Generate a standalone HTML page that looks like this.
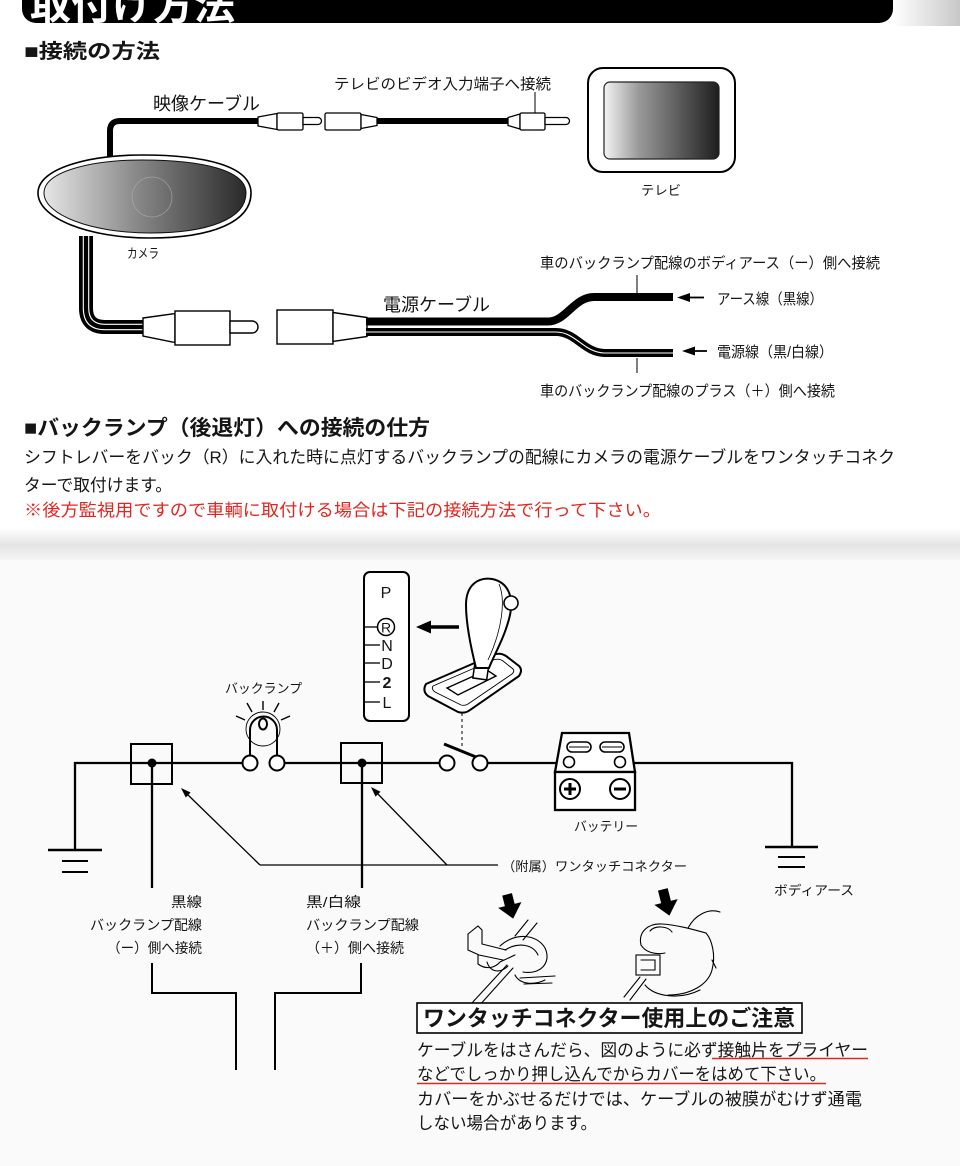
<!DOCTYPE html>
<html lang="ja">
<head>
<meta charset="utf-8">
<style>
  html,body{margin:0;padding:0;background:#fff;}
  svg{display:block;}
  text{font-family:"Liberation Sans","Noto Sans CJK JP",sans-serif;fill:#151515;}
  .b{font-weight:bold;}
</style>
</head>
<body>
<svg width="960" height="1166" viewBox="0 0 960 1166" xmlns="http://www.w3.org/2000/svg">
  <defs>
    <linearGradient id="camg" x1="0" y1="0" x2="1" y2="0">
      <stop offset="0" stop-color="#e6e6e6"/>
      <stop offset="0.45" stop-color="#8a8a8a"/>
      <stop offset="1" stop-color="#2a2a2a"/>
    </linearGradient>
    <linearGradient id="tvg" x1="0" y1="0" x2="1" y2="0">
      <stop offset="0" stop-color="#f4f4f4"/>
      <stop offset="0.3" stop-color="#9a9a9a"/>
      <stop offset="1" stop-color="#1e1e1e"/>
    </linearGradient>
    <linearGradient id="band" x1="0" y1="0" x2="0" y2="1">
      <stop offset="0" stop-color="#ffffff"/>
      <stop offset="0.5" stop-color="#e4e4e4"/>
      <stop offset="1" stop-color="#f7f7f7"/>
    </linearGradient>
    <linearGradient id="corner" x1="0" y1="0" x2="1" y2="0">
      <stop offset="0" stop-color="#ffffff"/>
      <stop offset="1" stop-color="#c8c8c8"/>
    </linearGradient>
  </defs>

  <!-- backgrounds -->
  <rect x="0" y="0" width="960" height="1166" fill="#ffffff"/>
  <rect x="893" y="0" width="67" height="26" fill="url(#corner)"/>
  <rect x="0" y="528" width="960" height="34" fill="url(#band)"/>
  <rect x="0" y="560" width="960" height="606" fill="#fafafa"/>

  <!-- header -->
  <rect x="22" y="-20" width="871" height="43" rx="14" fill="#000"/>
  <text x="30" y="19" font-size="40" textLength="205" lengthAdjust="spacingAndGlyphs" style="fill:#fff" class="b">取付け方法</text>

  <text x="24" y="58" font-size="20" textLength="136" lengthAdjust="spacingAndGlyphs" class="b">■接続の方法</text>

  <!-- video cable -->
  <text x="153" y="110" font-size="18" textLength="107" lengthAdjust="spacingAndGlyphs">映像ケーブル</text>
  <path d="M110,160 L110,131 Q110,121 120,121 L260,121" fill="none" stroke="#000" stroke-width="6"/>
  <!-- male plug 1 -->
  <polygon points="258,117 277,113.5 277,129.5 258,126" fill="#fff" stroke="#000" stroke-width="1.3"/>
  <rect x="277" y="113" width="26" height="17" rx="1.5" fill="#fff" stroke="#000" stroke-width="1.3"/>
  <path d="M303,117.5 L318,117.5 A3.5,3.5 0 0 1 318,124.5 L303,124.5 Z" fill="#fff" stroke="#000" stroke-width="1.3"/>
  <!-- female 1 -->
  <rect x="325" y="113" width="36" height="17" rx="1.5" fill="#fff" stroke="#000" stroke-width="1.3"/>
  <polygon points="361,114.5 377,117.5 377,125.5 361,128.5" fill="#fff" stroke="#000" stroke-width="1.3"/>
  <path d="M377,121 L508,121" stroke="#000" stroke-width="6"/>
  <!-- plug near TV -->
  <polygon points="508,117.5 520,114 520,129 508,125.5" fill="#fff" stroke="#000" stroke-width="1.3"/>
  <rect x="520" y="113" width="25" height="17" rx="1.5" fill="#fff" stroke="#000" stroke-width="1.3"/>
  <path d="M545,117.5 L566,117.5 A3.5,3.5 0 0 1 566,124.5 L545,124.5 Z" fill="#fff" stroke="#000" stroke-width="1.3"/>
  <text x="334" y="89" font-size="15" textLength="217" lengthAdjust="spacingAndGlyphs">テレビのビデオ入力端子へ接続</text>
  <line x1="535" y1="92" x2="535" y2="113" stroke="#000" stroke-width="1"/>

  <!-- TV -->
  <rect x="588" y="68" width="147" height="104" rx="15" fill="#fff" stroke="#000" stroke-width="2"/>
  <rect x="604" y="82" width="115" height="77" rx="6" fill="url(#tvg)" stroke="#222" stroke-width="1.2"/>
  <text x="641" y="195" font-size="13" textLength="40" lengthAdjust="spacingAndGlyphs">テレビ</text>

  <!-- power cable from camera -->
  <path d="M86,236 L86,308 Q86,327 105,327 L146,327" fill="none" stroke="#000" stroke-width="14"/>
  <path d="M83.3,236 L83.3,308 Q83.3,329.7 105,329.7 L146,329.7" fill="none" stroke="#fff" stroke-width="1.1"/>
  <path d="M88.7,236 L88.7,308 Q88.7,324.3 105,324.3 L146,324.3" fill="none" stroke="#fff" stroke-width="1.1"/>

  <!-- camera -->
  <path d="M38,193 C38,168 90,155 142,155 C205,155 251,166 251,193 C251,222 212,238 150,238 C88,238 38,218 38,193 Z" fill="#fff" stroke="#000" stroke-width="1.6"/>
  <path d="M44,193 C44,171 93,160 142,160 C202,160 246,170 246,193 C246,219 208,233 150,233 C92,233 44,215 44,193 Z" fill="url(#camg)" stroke="#111" stroke-width="1"/>
  <circle cx="152" cy="197" r="20" fill="none" stroke="#b0b0b0" stroke-width="0.8" opacity="0.7"/>
  <text x="127" y="258" font-size="13" textLength="32" lengthAdjust="spacingAndGlyphs">カメラ</text>

  <!-- power male connector -->
  <polygon points="143,318 175,313.5 175,342.5 143,336" fill="#fff" stroke="#000" stroke-width="1.4"/>
  <rect x="175" y="311" width="55" height="34" fill="#fff" stroke="#000" stroke-width="1.4"/>
  <path d="M230,321 L252,321 A6,6 0 0 1 252,333 L230,333 Z" fill="#fff" stroke="#000" stroke-width="1.4"/>
  <!-- power female connector -->
  <rect x="277" y="310" width="56" height="34" fill="#fff" stroke="#000" stroke-width="1.4"/>
  <polygon points="333,312.5 367,317.5 367,336.5 333,341.5" fill="#fff" stroke="#000" stroke-width="1.4"/>
  <!-- split wires -->
  <path d="M366,321.5 L548,321.5 C566,321.5 574,297 594,297 L673,297" fill="none" stroke="#000" stroke-width="8"/>
  <path d="M366,332 L556,332 C576,332 584,353 605,353 L673,353" fill="none" stroke="#000" stroke-width="8"/>
  <path d="M366,332 L556,332 C576,332 584,353 605,353 L673,353" fill="none" stroke="#fff" stroke-width="1.1"/>
  <text x="383" y="311" font-size="18" textLength="107" lengthAdjust="spacingAndGlyphs">電源ケーブル</text>

  <!-- labels right -->
  <text x="540" y="268" font-size="15" textLength="340" lengthAdjust="spacingAndGlyphs">車のバックランプ配線のボディアース（ー）側へ接続</text>
  <line x1="637" y1="275" x2="637" y2="293" stroke="#000" stroke-width="1"/>
  <line x1="688" y1="297.5" x2="704" y2="297.5" stroke="#000" stroke-width="1.8"/>
  <polygon points="677,297.5 690,293 690,302" fill="#000"/>
  <text x="717" y="304" font-size="15" textLength="106" lengthAdjust="spacingAndGlyphs">アース線（黒線）</text>
  <line x1="693" y1="351" x2="707" y2="351" stroke="#000" stroke-width="1.8"/>
  <polygon points="682,351 695,346.5 695,355.5" fill="#000"/>
  <text x="717" y="357" font-size="15" textLength="116" lengthAdjust="spacingAndGlyphs">電源線（黒/白線）</text>
  <line x1="637" y1="358" x2="637" y2="373" stroke="#000" stroke-width="1"/>
  <text x="540" y="396" font-size="15" textLength="295" lengthAdjust="spacingAndGlyphs">車のバックランプ配線のプラス（＋）側へ接続</text>

  <!-- section 2 -->
  <text x="24" y="435" font-size="21" textLength="406" lengthAdjust="spacingAndGlyphs" class="b">■バックランプ（後退灯）への接続の仕方</text>
  <text x="24" y="463" font-size="17" textLength="871" lengthAdjust="spacingAndGlyphs">シフトレバーをバック（R）に入れた時に点灯するバックランプの配線にカメラの電源ケーブルをワンタッチコネク</text>
  <text x="24" y="491" font-size="17" textLength="148" lengthAdjust="spacingAndGlyphs">ターで取付けます。</text>
  <text x="24" y="516" font-size="17" textLength="637" lengthAdjust="spacingAndGlyphs" style="fill:#e3261f">※後方監視用ですので車輌に取付ける場合は下記の接続方法で行って下さい。</text>

  <!-- ===== lower circuit ===== -->
  <!-- gear indicator -->
  <rect x="364" y="572" width="45" height="149" rx="6" fill="#fff" stroke="#000" stroke-width="2"/>
  <text x="386" y="598" font-size="16" text-anchor="middle" style="font-family:'Liberation Sans',sans-serif">P</text>
  <circle cx="386" cy="627" r="8.5" fill="none" stroke="#000" stroke-width="1.5"/>
  <text x="386" y="632.5" font-size="14" text-anchor="middle" style="font-family:'Liberation Sans',sans-serif">R</text>
  <text x="387" y="651" font-size="16" text-anchor="middle" style="font-family:'Liberation Sans',sans-serif">N</text>
  <text x="387" y="669" font-size="16" text-anchor="middle" style="font-family:'Liberation Sans',sans-serif">D</text>
  <text x="387" y="688" font-size="16" text-anchor="middle" style="font-family:'Liberation Sans',sans-serif" class="b">2</text>
  <text x="387" y="708" font-size="16" text-anchor="middle" style="font-family:'Liberation Sans',sans-serif">L</text>
  <g stroke="#000" stroke-width="1.3">
    <line x1="364" y1="627" x2="377" y2="627"/>
    <line x1="364" y1="645" x2="380" y2="645"/>
    <line x1="364" y1="663" x2="380" y2="663"/>
    <line x1="364" y1="682" x2="380" y2="682"/>
    <line x1="364" y1="702" x2="380" y2="702"/>
  </g>
  <!-- arrow to R -->
  <line x1="428" y1="627" x2="459" y2="627" stroke="#000" stroke-width="3.5"/>
  <polygon points="416,627 431,620.5 431,633.5" fill="#000"/>

  <!-- shifter -->
  <path d="M426,684 L493,655 Q500,652 506,656 L519,666 Q523,670 519,676 L470,710 Q465,714 458,712 L428,696 Q422,691 426,684 Z" fill="#fff" stroke="#000" stroke-width="2"/>
  <path d="M433,686 L493,660 Q499,658 503,661 L513,669 Q515,671 512,674 L468,704 Q465,706 461,705 L435,692 Q431,689 433,686 Z" fill="none" stroke="#000" stroke-width="0.9"/>
  <path d="M447,688 L487,670 L496,676 L458,695 Z" fill="#fff" stroke="#000" stroke-width="1.4"/>
  <rect x="474" y="662" width="14" height="17" fill="#fff" stroke="#000" stroke-width="1.5" transform="rotate(8 481 670)"/>
  <path d="M476,668 C471,648 466,625 466,605 C466,585 478,577 492,579 C508,582 514,597 510,615 C505,637 494,655 489,668 Z" fill="#fff" stroke="#000" stroke-width="2"/>
  <path d="M499,584 C506,600 502,630 488,660" fill="none" stroke="#000" stroke-width="0.8"/>
  <circle cx="511" cy="603" r="7" fill="#fff" stroke="#000" stroke-width="1.6"/>
  <line x1="462" y1="713" x2="462" y2="748" stroke="#000" stroke-width="1" stroke-dasharray="3,3"/>

  <!-- bulb -->
  <text x="225" y="693" font-size="13" textLength="77" lengthAdjust="spacingAndGlyphs">バックランプ</text>
  <g stroke="#000" stroke-width="1.4">
    <line x1="263" y1="701" x2="263" y2="710"/>
    <line x1="247" y1="703" x2="252" y2="712"/>
    <line x1="279" y1="703" x2="274" y2="712"/>
    <line x1="236" y1="716" x2="245" y2="720"/>
    <line x1="290" y1="716" x2="281" y2="720"/>
  </g>
  <circle cx="263" cy="729" r="17" fill="none" stroke="#000" stroke-width="0.9"/>
  <path d="M250,756 L250,730 A13.5,13.5 0 0 1 277,730 L277,756" fill="none" stroke="#000" stroke-width="2"/>
  <ellipse cx="263" cy="724" rx="4" ry="5.5" fill="none" stroke="#000" stroke-width="2"/>

  <!-- main wire -->
  <g fill="none" stroke="#000" stroke-width="2.3">
    <path d="M75,850 L75,763 L242.5,763"/>
    <line x1="284.5" y1="763" x2="439.5" y2="763"/>
    <line x1="487.5" y1="763" x2="563.5" y2="763"/>
    <path d="M625.5,763 L792,763 L792,847"/>
    <line x1="152" y1="763" x2="152" y2="888"/>
    <line x1="362" y1="763" x2="362" y2="888"/>
  </g>
  <!-- bulb terminals -->
  <circle cx="250" cy="763" r="7.5" fill="#fff" stroke="#000" stroke-width="2"/>
  <circle cx="277" cy="763" r="7.5" fill="#fff" stroke="#000" stroke-width="2"/>
  <!-- junction boxes -->
  <rect x="131" y="744" width="41" height="40" fill="none" stroke="#000" stroke-width="2"/>
  <circle cx="152" cy="763" r="4.5" fill="#000"/>
  <rect x="341" y="743" width="41" height="40" fill="none" stroke="#000" stroke-width="2"/>
  <circle cx="362" cy="763" r="4.5" fill="#000"/>
  <!-- switch -->
  <circle cx="447" cy="763" r="7.5" fill="#fff" stroke="#000" stroke-width="2"/>
  <circle cx="480" cy="763" r="7.5" fill="#fff" stroke="#000" stroke-width="2"/>
  <line x1="444" y1="744" x2="476" y2="757" stroke="#000" stroke-width="3"/>

  <!-- battery -->
  <path d="M562,733 L629,733 L635,772 L555,772 Z" fill="#fff" stroke="#000" stroke-width="2.3"/>
  <rect x="555" y="772" width="80" height="38" fill="#fff" stroke="#000" stroke-width="2.3"/>
  <rect x="567" y="742" width="24" height="10" rx="5" fill="#fff" stroke="#000" stroke-width="1.6"/>
  <line x1="569" y1="747" x2="589" y2="747" stroke="#000" stroke-width="1"/>
  <rect x="600" y="742" width="24" height="10" rx="5" fill="#fff" stroke="#000" stroke-width="1.6"/>
  <line x1="602" y1="747" x2="622" y2="747" stroke="#000" stroke-width="1"/>
  <circle cx="569" cy="762" r="5.5" fill="#fff" stroke="#000" stroke-width="1.6"/>
  <circle cx="620" cy="762" r="5.5" fill="#fff" stroke="#000" stroke-width="1.6"/>
  <circle cx="570" cy="789" r="10" fill="#fff" stroke="#000" stroke-width="2"/>
  <line x1="564" y1="789" x2="576" y2="789" stroke="#000" stroke-width="3"/>
  <line x1="570" y1="783" x2="570" y2="795" stroke="#000" stroke-width="3"/>
  <circle cx="620" cy="789" r="10" fill="#fff" stroke="#000" stroke-width="2"/>
  <line x1="614" y1="789" x2="626" y2="789" stroke="#000" stroke-width="3"/>
  <text x="574" y="831" font-size="13" textLength="64" lengthAdjust="spacingAndGlyphs">バッテリー</text>

  <!-- grounds -->
  <g stroke="#000">
    <line x1="48" y1="850" x2="102" y2="850" stroke-width="2.5"/>
    <line x1="62" y1="861" x2="88" y2="861" stroke-width="2"/>
    <line x1="62" y1="872" x2="88" y2="872" stroke-width="2"/>
    <line x1="765" y1="847" x2="818" y2="847" stroke-width="2.5"/>
    <line x1="778" y1="857" x2="805" y2="857" stroke-width="2"/>
    <line x1="778" y1="867" x2="805" y2="867" stroke-width="2"/>
  </g>
  <text x="774" y="895" font-size="13" textLength="80" lengthAdjust="spacingAndGlyphs">ボディアース</text>

  <!-- connector pointer lines -->
  <g stroke="#000" stroke-width="1.3" fill="none">
    <line x1="260" y1="865" x2="498" y2="865"/>
    <line x1="260" y1="865" x2="186" y2="793"/>
    <line x1="447" y1="865" x2="375" y2="791"/>
  </g>
  <polygon points="181,788 190.6,792.5 185.8,797.5" fill="#000"/>
  <polygon points="371,787 380.5,791.7 375.5,796.6" fill="#000"/>
  <text x="502" y="871" font-size="13" textLength="185" lengthAdjust="spacingAndGlyphs">（附属）ワンタッチコネクター</text>

  <!-- wire labels -->
  <text x="202" y="907" font-size="14" text-anchor="end" textLength="31" lengthAdjust="spacingAndGlyphs">黒線</text>
  <text x="202" y="930" font-size="14" text-anchor="end" textLength="112" lengthAdjust="spacingAndGlyphs">バックランプ配線</text>
  <text x="202" y="953" font-size="14" text-anchor="end" textLength="95" lengthAdjust="spacingAndGlyphs">（ー）側へ接続</text>
  <text x="306" y="907" font-size="14" textLength="55" lengthAdjust="spacingAndGlyphs">黒/白線</text>
  <text x="306" y="930" font-size="14" textLength="113" lengthAdjust="spacingAndGlyphs">バックランプ配線</text>
  <text x="306" y="953" font-size="14" textLength="98" lengthAdjust="spacingAndGlyphs">（＋）側へ接続</text>
  <g fill="none" stroke="#000" stroke-width="2">
    <path d="M152,963 L152,993 L236,993 L236,1070"/>
    <path d="M361,963 L361,993 L275,993 L275,1070"/>
  </g>

  <!-- connector sketches -->
  <g transform="rotate(-14 510 906)">
    <rect x="505" y="894" width="10" height="13" fill="#000"/>
    <polygon points="498,905 522,905 510,919" fill="#000"/>
  </g>
  <g transform="rotate(-14 666 902)">
    <rect x="661" y="889" width="10" height="14" fill="#000"/>
    <polygon points="654,902 678,902 666,916" fill="#000"/>
  </g>
  <g fill="none" stroke="#000" stroke-width="1.1" stroke-linecap="round">
    <!-- left clip -->
    <path d="M468,934 L478,926 L482,930 L482,944 L506,950"/>
    <path d="M468,934 L468,950 L479,955 L503,960"/>
    <path d="M478,955 L478,964 C486,970 495,968 500,962 L515,955"/>
    <path d="M487,962 C490,972 500,974 508,966"/>
    <path d="M471,1004 L507,965"/>
    <path d="M478,1007 L513,968"/>
    <path d="M500,946 C515,932 537,934 545,948 C552,963 540,975 523,972"/>
    <path d="M505,950 C518,942 533,944 538,955"/>
    <path d="M515,936 L528,920"/>
    <path d="M523,940 L537,923"/>
    <path d="M520,978 L555,976"/>
    <path d="M524,984 L552,983"/>
    <path d="M515,975 C520,985 535,985 545,980"/>
    <!-- right finger -->
    <path d="M641,945 C638,932 648,923 662,924 C678,925 695,930 706,933"/>
    <path d="M641,945 C645,952 655,955 665,953"/>
    <path d="M650,931 C655,925 668,926 672,932"/>
    <path d="M706,933 C712,940 716,955 712,970 C708,985 690,995 668,995"/>
    <path d="M688,928 C695,915 708,908 720,912"/>
    <path d="M712,960 L716,968"/>
    <rect x="636" y="955" width="24" height="20"/>
    <path d="M641,960 L655,960 L655,970 L641,970"/>
    <path d="M624,997 L640,977"/>
    <path d="M630,1000 L646,979"/>
    <path d="M645,985 C655,997 680,1000 700,990"/>
  </g>

  <!-- notice box -->
  <rect x="417" y="1003" width="385" height="30" fill="#fff" stroke="#000" stroke-width="1.6"/>
  <text x="423" y="1026" font-size="22" textLength="372" lengthAdjust="spacingAndGlyphs" class="b">ワンタッチコネクター使用上のご注意</text>
  <text x="417" y="1056" font-size="17" textLength="451" lengthAdjust="spacingAndGlyphs">ケーブルをはさんだら、図のように必ず接触片をプライヤー</text>
  <line x1="712" y1="1058.5" x2="868" y2="1058.5" stroke="#e3261f" stroke-width="1.5"/>
  <text x="417" y="1080" font-size="17" textLength="409" lengthAdjust="spacingAndGlyphs">などでしっかり押し込んでからカバーをはめて下さい。</text>
  <line x1="417" y1="1083.5" x2="826" y2="1083.5" stroke="#e3261f" stroke-width="1.5"/>
  <text x="417" y="1105" font-size="17" textLength="445" lengthAdjust="spacingAndGlyphs">カバーをかぶせるだけでは、ケーブルの被膜がむけず通電</text>
  <text x="417" y="1129" font-size="17" textLength="180" lengthAdjust="spacingAndGlyphs">しない場合があります。</text>
</svg>
</body>
</html>
